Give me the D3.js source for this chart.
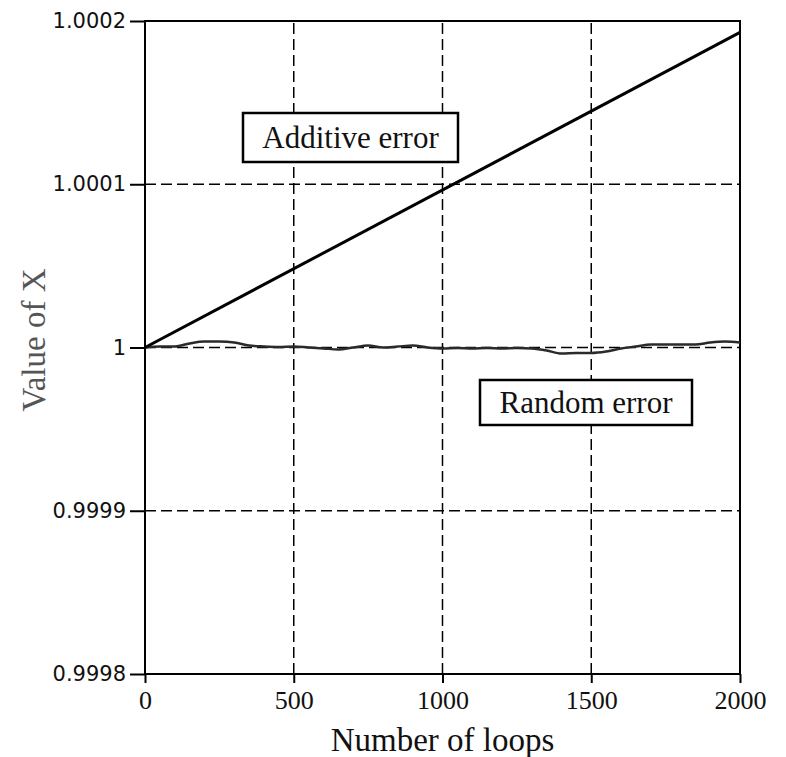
<!DOCTYPE html>
<html>
<head>
<meta charset="utf-8">
<script src="https://cdn.jsdelivr.net/npm/d3@7"></script>
<style>
  html, body { margin: 0; padding: 0; background: #fff; }
  svg { display: block; }
</style>
</head>
<body>
<div id="chart"></div>
<script>
// Data
const loops = d3.range(0, 2001, 50);
const additiveEnds = [1.0, 1.000193];
const randomValues = [
  1.0, 1.0000006, 1.0000006, 1.0000025, 1.0000037, 1.0000037, 1.0000031, 1.0000012,
  1.0000006, 1.0000003, 1.0000006, 1.0, 0.9999994, 0.9999988, 1.0, 1.0000012,
  1.0, 1.0000006, 1.0000012, 1.0, 0.9999994, 0.9999997, 0.9999994, 0.9999997,
  0.9999994, 0.9999997, 0.9999994, 0.9999982, 0.9999963, 0.9999966, 0.9999966, 0.9999975,
  0.9999994, 1.0000006, 1.0000018, 1.0000018, 1.0000018, 1.0000018, 1.0000031, 1.0000037,
  1.0000031
];
const xTicks = [0, 500, 1000, 1500, 2000];
const yTicks = [0.9998, 0.9999, 1.0, 1.0001, 1.0002];
const yTickLabels = ["0.9998", "0.9999", "1", "1.0001", "1.0002"];

const width = 786;
const height = 757;
const margin = { top: 21, right: 46, bottom: 83, left: 145 };

const svg = d3.select("#chart")
  .append("svg")
  .attr("width", width)
  .attr("height", height);

const x = d3.scaleLinear()
  .domain([0, 2000])
  .range([margin.left, width - margin.right]);

const y = d3.scaleLinear()
  .domain([0.9998, 1.0002])
  .range([height - margin.bottom, margin.top]);

// Dashed grid lines (inner ticks only)
svg.append("g")
  .selectAll("line")
  .data(xTicks.slice(1, -1))
  .join("line")
  .attr("x1", d => x(d)).attr("x2", d => x(d))
  .attr("y1", y.range()[0]).attr("y2", y.range()[1])
  .attr("stroke", "#000")
  .attr("stroke-width", 1.5)
  .attr("stroke-dasharray", "11,5");

svg.append("g")
  .selectAll("line")
  .data(yTicks.slice(1, -1))
  .join("line")
  .attr("x1", x.range()[0]).attr("x2", x.range()[1])
  .attr("y1", d => y(d)).attr("y2", d => y(d))
  .attr("stroke", "#000")
  .attr("stroke-width", 1.5)
  .attr("stroke-dasharray", "11,5");

// Frame
svg.append("rect")
  .attr("x", x.range()[0])
  .attr("y", y.range()[1])
  .attr("width", x.range()[1] - x.range()[0])
  .attr("height", y.range()[0] - y.range()[1])
  .attr("fill", "none")
  .attr("stroke", "#000")
  .attr("stroke-width", 2);

// Axes
const xAxis = svg.append("g")
  .attr("transform", `translate(0,${height - margin.bottom})`)
  .call(d3.axisBottom(x).tickValues(xTicks).tickFormat(d3.format("d")).tickSize(9).tickPadding(8));

const yAxis = svg.append("g")
  .attr("transform", `translate(${margin.left},0)`)
  .call(d3.axisLeft(y).tickValues(yTicks).tickFormat((d, i) => yTickLabels[i]).tickSize(15).tickPadding(4));

[xAxis, yAxis].forEach(g => {
  g.select(".domain").remove();
  g.selectAll(".tick line").attr("stroke", "#000").attr("stroke-width", 2);
});

xAxis.selectAll("text")
  .attr("fill", "#111")
  .style("font-family", "'Liberation Serif', 'Times New Roman', serif")
  .style("font-size", "26px");

yAxis.selectAll("text")
  .attr("fill", "#111")
  .style("font-family", "'DejaVu Sans', Verdana, sans-serif")
  .style("font-size", "21px");

// Axis titles
svg.append("text")
  .attr("x", (x.range()[0] + x.range()[1]) / 2)
  .attr("y", 751)
  .attr("text-anchor", "middle")
  .attr("fill", "#111")
  .style("font-family", "'Liberation Serif', 'Times New Roman', serif")
  .style("font-size", "33px")
  .text("Number of loops");

svg.append("text")
  .attr("transform", "translate(45,340) rotate(-90)")
  .attr("text-anchor", "middle")
  .attr("fill", "#555")
  .style("font-family", "'Liberation Serif', 'Times New Roman', serif")
  .style("font-size", "33px")
  .text("Value of X");

// Lines
const line = d3.line()
  .x(d => x(d[0]))
  .y(d => y(d[1]));

svg.append("path")
  .datum(loops.map((l, i) => [l, randomValues[i]]))
  .attr("d", line.curve(d3.curveMonotoneX))
  .attr("fill", "none")
  .attr("stroke", "#2a2a2a")
  .attr("stroke-width", 2.5);

svg.append("path")
  .datum([[0, additiveEnds[0]], [2000, additiveEnds[1]]])
  .attr("d", d3.line().x(d => x(d[0])).y(d => y(d[1])))
  .attr("fill", "none")
  .attr("stroke", "#000")
  .attr("stroke-width", 3);

// Label boxes
const labels = [
  { text: "Additive error", x: 243, y: 113, w: 215, h: 49 },
  { text: "Random error", x: 480, y: 380, w: 212, h: 45 }
];

const labelGroup = svg.append("g")
  .selectAll("g")
  .data(labels)
  .join("g");

labelGroup.append("rect")
  .attr("x", d => d.x)
  .attr("y", d => d.y)
  .attr("width", d => d.w)
  .attr("height", d => d.h)
  .attr("fill", "#fff")
  .attr("stroke", "#000")
  .attr("stroke-width", 2.5);

labelGroup.append("text")
  .attr("x", d => d.x + d.w / 2)
  .attr("y", d => d.y + d.h / 2 + 10)
  .attr("text-anchor", "middle")
  .attr("fill", "#111")
  .style("font-family", "'Liberation Serif', 'Times New Roman', serif")
  .style("font-size", "31px")
  .text(d => d.text);
</script>
</body>
</html>
